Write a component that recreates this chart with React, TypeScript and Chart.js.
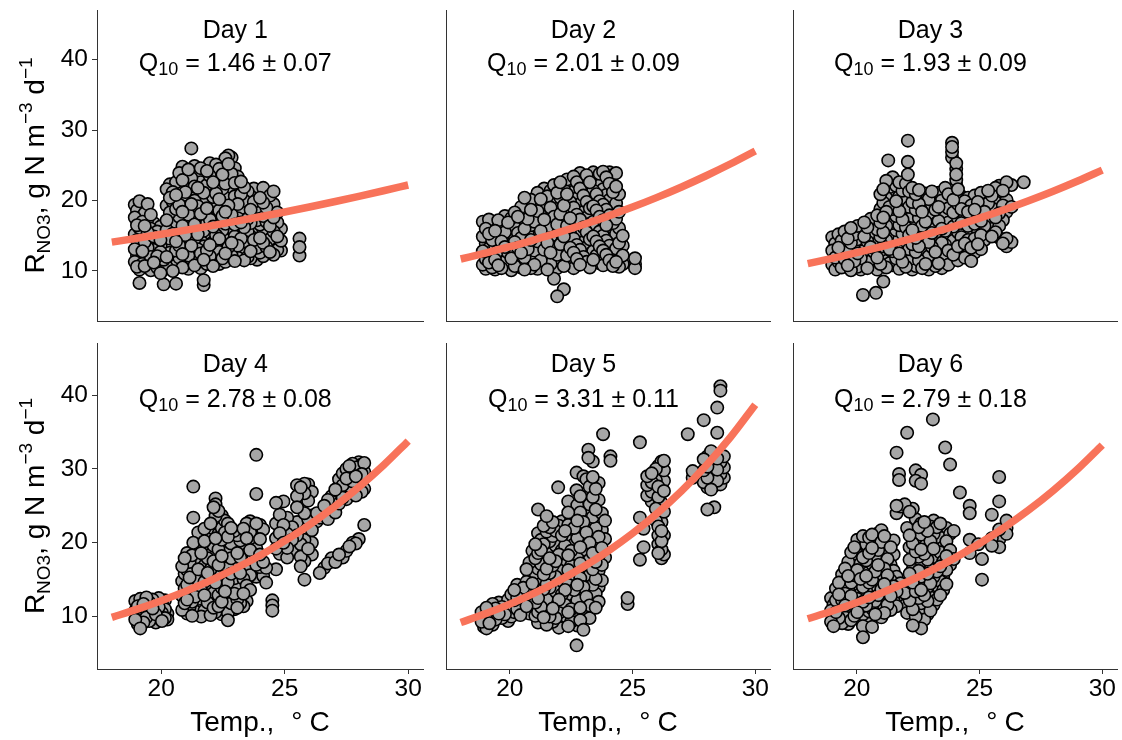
import React, { useEffect, useRef } from 'react';
import { Chart, registerables } from 'chart.js';

Chart.register(...registerables);

const FONT = '"Liberation Sans", Arial, Helvetica, sans-serif';
Chart.defaults.font.family = FONT;

// ---------------- data ----------------
const dayLabels = ['Day 1', 'Day 2', 'Day 3', 'Day 4', 'Day 5', 'Day 6'];
const q10Values = ['1.46', '2.01', '1.93', '2.78', '3.31', '2.79'];
const q10Errors = ['0.07', '0.09', '0.09', '0.08', '0.11', '0.18'];

const xTickValues = [20, 25, 30];
const yTickValues = [10, 20, 30, 40];
const xLimits = [17.4, 30.6];
const yLimits = [2.9, 47.05];

const xTitle = ['Temp.,', '°', 'C'];
const yTitle = ['R', 'NO3', ', g N m', '−3', ' d', '−1'];

// fitted curve (temperature, rate)
const fitTemps = [18, 19, 20, 21, 22, 23, 24, 25, 26, 27, 28, 29, 30];
const fitDay1 = [14.1, 14.64, 15.21, 15.8, 16.41, 17.04, 17.7, 18.38, 19.09, 19.83, 20.59, 21.39, 22.21];
const fitDay2 = [11.7, 12.55, 13.45, 14.43, 15.47, 16.59, 17.79, 19.07, 20.45, 21.93, 23.52, 25.22, 27.04];
const fitDay3 = [11.05, 11.8, 12.6, 13.46, 14.37, 15.35, 16.39, 17.51, 18.7, 19.97, 21.32, 22.77, 24.32];
const fitDay4 = [9.9, 10.97, 12.15, 13.45, 14.9, 16.51, 18.28, 20.25, 22.43, 24.85, 27.52, 30.49, 33.77];
const fitDay5 = [9.2, 10.37, 11.69, 13.17, 14.85, 16.74, 18.87, 21.27, 23.97, 27.02, 30.46, 34.33, 38.69];
const fitDay6 = [9.7, 10.75, 11.91, 13.2, 14.62, 16.2, 17.95, 19.89, 22.04, 24.42, 27.06, 29.98, 33.22];

// observations: each row = [temperature, rate, rate, ...]
const obsDay1 = [
  [18.93, 19.4, 17.6, 15.2, 13.1, 11.3],
  [19.02, 18.6, 16.5, 14.4, 12.2, 10.6],
  [19.12, 19.9, 17.9, 16.1, 13.6, 11.9, 10.2, 8.3],
  [19.24, 19.1, 17.0, 15.0, 12.8, 11.0],
  [19.33, 18.2, 16.4, 14.1, 12.4, 10.7],
  [19.45, 19.5, 17.4, 15.5, 13.3, 11.5],
  [19.58, 18.0, 16.0, 14.6, 12.0, 10.1],
  [19.7, 16.8, 14.9, 13.0, 11.2],
  [19.84, 15.6, 13.8, 12.1, 10.5],
  [19.97, 16.3, 14.4, 12.7, 10.9, 9.7],
  [20.1, 15.2, 13.2, 11.6, 10.2, 8.1],
  [20.22, 21.6, 19.3, 17.2, 15.8, 13.9, 12.0, 10.6],
  [20.35, 22.3, 20.4, 18.3, 16.6, 14.6, 12.6, 11.3],
  [20.47, 21.2, 19.8, 17.6, 15.3, 13.5, 11.7, 10.0],
  [20.6, 22.6, 20.8, 18.8, 16.9, 14.2, 12.9, 10.8, 8.2],
  [20.73, 23.9, 21.6, 19.4, 17.7, 15.6, 13.6, 11.9],
  [20.86, 24.8, 22.9, 20.3, 18.4, 16.4, 14.8, 12.4, 10.5],
  [20.98, 23.5, 21.2, 19.1, 17.2, 15.1, 13.2, 11.4],
  [21.1, 24.4, 22.4, 20.6, 18.0, 16.0, 14.1, 12.2, 10.3],
  [21.22, 27.4, 23.2, 21.5, 19.5, 17.5, 15.4, 13.6, 11.7],
  [21.35, 24.9, 22.0, 20.0, 18.6, 16.6, 14.5, 12.8, 10.8],
  [21.48, 23.8, 21.8, 19.2, 17.2, 15.2, 13.1, 11.3],
  [21.6, 24.6, 22.6, 20.6, 18.1, 16.2, 14.3, 12.5, 10.4],
  [21.72, 23.1, 21.1, 19.6, 17.6, 15.7, 13.5, 11.6, 8.7, 8.0],
  [21.85, 24.2, 22.2, 20.1, 18.9, 16.8, 14.8, 12.9, 11.0],
  [21.97, 25.3, 23.5, 21.4, 19.3, 17.3, 15.4, 13.7, 12.1],
  [22.1, 24.0, 22.6, 20.5, 18.2, 16.3, 14.1, 12.4, 10.7],
  [22.22, 25.1, 23.3, 21.0, 19.0, 17.0, 15.1, 13.2, 11.4],
  [22.35, 24.5, 22.1, 20.2, 18.6, 16.5, 14.6, 12.7, 11.0],
  [22.48, 23.7, 21.7, 19.8, 17.8, 15.8, 13.9, 11.8],
  [22.6, 26.0, 24.3, 22.4, 20.7, 18.4, 16.7, 14.4, 12.5, 11.3],
  [22.72, 26.4, 25.2, 23.0, 21.1, 19.3, 17.3, 15.3, 13.4, 11.6],
  [22.85, 26.1, 23.8, 21.9, 20.1, 18.0, 16.0, 14.0, 12.2],
  [22.98, 24.6, 22.5, 20.6, 18.7, 16.6, 14.9, 12.9, 11.4],
  [23.1, 23.4, 21.4, 19.5, 17.5, 15.5, 13.6, 11.9],
  [23.23, 22.7, 20.9, 18.9, 16.9, 14.6, 12.7],
  [23.36, 21.9, 20.0, 18.3, 16.2, 14.2, 13.1, 11.5],
  [23.5, 21.3, 19.4, 17.4, 15.6, 13.7, 12.0],
  [23.62, 20.6, 18.7, 16.8, 14.9, 12.8, 11.8],
  [23.75, 21.7, 19.8, 17.9, 16.1, 14.4, 12.4],
  [23.88, 21.1, 19.1, 17.2, 15.3, 13.3, 11.6],
  [24.0, 20.4, 18.5, 16.6, 14.7, 12.6],
  [24.13, 21.8, 19.7, 17.8, 15.9, 14.0, 12.1],
  [24.26, 21.2, 19.0, 17.0, 15.1, 13.4],
  [24.4, 20.7, 18.6, 16.4, 14.5, 12.7],
  [24.55, 21.3, 19.5, 17.6, 15.6, 13.8, 12.3],
  [24.7, 18.3, 16.9, 14.9, 13.0],
  [24.85, 16.0, 14.3, 12.9],
  [25.6, 14.6, 13.4, 12.2],
];

const obsDay2 = [
  [18.9, 17.0, 14.9, 12.8, 10.9],
  [19.02, 16.0, 13.9, 11.7, 10.3],
  [19.15, 17.3, 15.3, 13.2, 11.2],
  [19.28, 16.4, 14.4, 12.3, 10.5],
  [19.4, 15.7, 13.6, 11.6, 10.2],
  [19.53, 17.2, 14.8, 12.9, 10.8],
  [19.66, 16.5, 14.2, 12.1, 10.4],
  [19.8, 17.8, 15.5, 13.4, 11.3],
  [19.93, 16.9, 14.6, 12.6, 10.6],
  [20.06, 17.5, 15.9, 13.8, 11.8, 10.1],
  [20.2, 18.3, 16.2, 14.1, 12.2, 10.7],
  [20.33, 17.7, 15.4, 13.3, 11.4],
  [20.46, 19.1, 16.8, 14.7, 12.6, 10.5],
  [20.6, 20.4, 18.2, 16.0, 13.9, 11.9, 10.2],
  [20.73, 19.6, 17.4, 15.2, 13.1, 11.1],
  [20.86, 20.1, 18.7, 16.5, 14.4, 12.4, 10.4],
  [21.0, 19.3, 17.0, 15.0, 12.9, 10.9],
  [21.13, 21.1, 18.5, 16.3, 14.2, 12.2, 10.3],
  [21.26, 20.2, 17.9, 15.7, 13.6, 11.5],
  [21.4, 21.7, 19.5, 17.3, 15.1, 13.0, 10.8],
  [21.53, 20.6, 18.4, 16.2, 14.0, 12.1, 10.2],
  [21.66, 21.4, 19.0, 16.8, 14.7, 12.6, 11.0],
  [21.8, 22.2, 20.0, 17.7, 15.5, 13.4, 11.4, 8.9],
  [21.93, 21.1, 18.8, 16.6, 14.4, 12.3, 10.4, 6.4],
  [22.06, 22.6, 20.4, 18.1, 15.9, 13.8, 11.8],
  [22.2, 21.6, 19.3, 17.0, 14.9, 12.8, 10.7, 7.4],
  [22.33, 23.0, 20.9, 18.6, 16.4, 14.3, 12.2],
  [22.46, 22.1, 19.8, 17.5, 15.3, 13.3, 11.2],
  [22.6, 23.4, 21.3, 19.0, 16.8, 14.6, 12.6, 10.4],
  [22.73, 22.6, 20.3, 18.0, 15.8, 13.7, 11.7],
  [22.86, 23.9, 21.7, 19.5, 17.3, 15.1, 13.0, 10.9],
  [23.0, 23.0, 20.7, 18.4, 16.2, 14.1, 12.0],
  [23.13, 23.6, 21.9, 19.8, 17.6, 15.5, 13.4, 11.3],
  [23.26, 22.6, 20.4, 18.9, 16.7, 14.5, 12.4, 10.5],
  [23.4, 24.0, 21.4, 19.2, 17.0, 14.9, 12.8, 11.6],
  [23.53, 23.2, 20.9, 18.6, 16.4, 14.2, 12.2],
  [23.66, 23.8, 22.2, 19.9, 17.7, 15.6, 13.5, 11.1],
  [23.8, 24.1, 21.6, 19.4, 17.2, 15.0, 12.9, 10.8],
  [23.93, 23.3, 20.8, 18.7, 16.5, 14.3, 12.3],
  [24.06, 24.0, 22.4, 20.1, 17.9, 15.8, 13.6, 11.5],
  [24.2, 23.6, 21.2, 19.0, 16.8, 14.7, 12.6, 10.7],
  [24.33, 23.9, 22.0, 19.6, 17.4, 15.3, 13.2, 11.3],
  [24.45, 20.9, 18.4, 16.1, 14.0, 12.0, 10.6],
  [24.6, 15.0, 13.6, 12.2, 11.0],
  [25.1, 11.8, 11.0, 10.4],
];

const obsDay3 = [
  [19.0, 14.8, 12.9, 10.9],
  [19.12, 13.9, 11.9, 10.2],
  [19.25, 15.2, 13.3, 11.3],
  [19.38, 14.3, 12.4, 10.5],
  [19.5, 15.6, 13.7, 11.7],
  [19.63, 14.6, 12.7, 10.8],
  [19.76, 16.1, 14.0, 12.1, 10.1],
  [19.9, 15.2, 13.3, 11.4],
  [20.03, 16.4, 14.5, 12.5, 10.6],
  [20.16, 15.6, 13.7, 11.8, 10.2],
  [20.25, 6.6],
  [20.3, 16.9, 14.9, 12.9, 11.0],
  [20.43, 16.2, 14.2, 12.2, 10.4],
  [20.56, 17.4, 15.4, 13.4, 11.4],
  [20.7, 16.6, 14.7, 12.7, 10.8],
  [20.78, 6.9],
  [20.83, 17.9, 15.9, 13.9, 11.9, 10.2],
  [20.96, 20.9, 18.8, 16.9, 14.9, 12.9, 11.0],
  [21.08, 21.6, 19.7, 17.6, 15.5, 13.5, 11.5, 8.5],
  [21.2, 22.8, 20.4, 18.4, 16.4, 14.4, 12.4, 10.5],
  [21.28, 25.7],
  [21.33, 21.9, 19.1, 17.1, 15.1, 13.1, 11.1],
  [21.46, 23.3, 20.7, 18.8, 16.8, 14.8, 12.8, 10.8],
  [21.6, 22.1, 19.9, 17.8, 15.8, 13.8, 11.8],
  [21.73, 22.6, 20.6, 18.5, 16.5, 14.5, 12.5, 10.3],
  [21.86, 21.4, 19.3, 17.3, 15.3, 13.3, 11.3],
  [22.0, 22.4, 20.2, 18.2, 16.2, 14.2, 12.2, 10.6],
  [22.08, 28.5, 25.5, 23.7],
  [22.13, 21.3, 19.1, 17.1, 15.1, 13.1, 11.0],
  [22.26, 21.8, 19.8, 17.8, 15.8, 13.8, 11.8, 10.2],
  [22.4, 20.9, 18.7, 16.7, 14.7, 12.7, 10.7],
  [22.53, 21.5, 19.5, 17.5, 15.5, 13.5, 11.5],
  [22.66, 20.4, 18.4, 16.4, 14.3, 12.3, 10.4],
  [22.8, 21.0, 19.0, 17.0, 15.0, 13.0, 11.0],
  [22.93, 20.2, 18.1, 16.1, 14.1, 12.1, 10.2],
  [23.06, 21.3, 19.4, 17.4, 15.4, 13.4, 11.4],
  [23.2, 20.7, 18.7, 16.7, 14.7, 12.7, 10.7],
  [23.33, 21.1, 19.1, 17.1, 15.1, 13.1, 11.1],
  [23.46, 20.0, 18.0, 16.0, 14.0, 12.0, 10.4],
  [23.6, 21.8, 19.7, 17.7, 15.7, 13.7, 11.7],
  [23.73, 20.9, 18.9, 16.9, 14.9, 12.9, 10.9],
  [23.88, 28.2, 27.6, 26.9, 26.1],
  [23.93, 20.1, 18.3, 16.3, 14.3, 12.3],
  [24.05, 25.3, 24.5, 23.7, 22.9, 22.2],
  [24.12, 21.6, 19.5, 17.5, 15.5, 13.5, 11.5],
  [24.26, 20.6, 18.8, 16.8, 14.8, 12.8],
  [24.4, 19.9, 17.9, 15.9, 13.9, 11.9],
  [24.53, 20.4, 18.4, 16.4, 14.4, 12.4],
  [24.66, 19.3, 17.3, 15.3, 13.3, 11.4],
  [24.8, 20.7, 18.7, 16.7, 14.6, 12.6],
  [24.93, 19.8, 17.8, 15.8, 13.8],
  [25.06, 21.1, 19.1, 17.1, 15.1, 13.1],
  [25.2, 20.4, 18.4, 16.4, 14.4],
  [25.35, 21.4, 19.6, 17.6, 15.6],
  [25.5, 20.7, 18.9, 16.9, 14.9],
  [25.65, 21.8, 19.8, 17.6, 15.5],
  [25.8, 22.1, 20.4, 18.2, 16.4, 14.7],
  [25.95, 21.4, 19.3, 17.2, 13.9],
  [26.1, 22.6, 20.1, 18.4, 14.6, 13.5],
  [26.3, 22.2, 19.1, 14.1],
  [26.8, 22.6],
];

const obsDay4 = [
  [18.95, 12.1, 10.8, 9.6],
  [19.05, 11.4, 10.1, 9.0],
  [19.15, 12.4, 11.0, 9.7, 8.4],
  [19.28, 11.7, 10.4, 9.2],
  [19.4, 12.6, 11.2, 9.9],
  [19.52, 11.9, 10.6, 9.4],
  [19.65, 12.3, 11.1, 9.8],
  [19.78, 11.5, 10.3, 9.2],
  [19.9, 12.5, 11.3, 10.0],
  [20.03, 11.8, 10.5, 9.4],
  [20.15, 12.2, 11.0, 9.8],
  [20.25, 10.4, 9.6],
  [20.85, 16.8, 14.8, 12.8, 10.9],
  [20.95, 17.9, 15.8, 13.8, 11.8],
  [21.05, 18.6, 16.3, 14.3, 12.3, 10.4],
  [21.15, 17.4, 15.3, 13.3, 11.3],
  [21.25, 18.3, 16.1, 14.0, 12.0, 10.1],
  [21.3, 27.6, 23.4, 20.0],
  [21.38, 17.2, 15.0, 12.7, 10.7],
  [21.5, 21.4, 19.2, 16.4, 14.5, 12.4],
  [21.62, 18.6, 17.6, 15.6, 13.5, 11.5, 10.0],
  [21.75, 21.9, 20.2, 16.9, 14.7, 12.9, 10.8],
  [21.88, 19.4, 17.9, 15.9, 13.8, 11.9],
  [22.0, 22.6, 20.8, 18.4, 16.4, 14.3, 12.2, 10.2],
  [22.12, 24.8, 21.9, 19.6, 17.5, 15.3, 13.2, 11.2],
  [22.2, 26.0, 25.2, 23.6, 20.6, 18.6, 16.5, 14.6, 12.6, 10.6],
  [22.32, 24.3, 22.6, 21.2, 19.1, 17.0, 14.9, 12.9, 11.4],
  [22.45, 23.7, 22.0, 20.4, 18.2, 16.0, 13.9, 12.0, 10.3],
  [22.58, 23.0, 21.4, 19.5, 17.5, 15.4, 13.4, 11.3],
  [22.7, 22.6, 20.8, 18.7, 16.6, 14.6, 12.4, 10.5, 9.5],
  [22.83, 22.0, 19.9, 17.9, 15.8, 13.8, 11.8],
  [22.96, 21.6, 19.3, 17.3, 15.2, 13.1, 11.0],
  [23.08, 21.0, 18.6, 16.5, 14.4, 12.3, 11.2],
  [23.2, 20.3, 18.0, 15.9, 13.9, 11.8],
  [23.33, 21.9, 19.5, 17.2, 15.1, 13.1, 11.4],
  [23.46, 22.6, 20.6, 18.4, 16.3, 14.2, 12.1],
  [23.6, 22.9, 21.4, 19.0, 17.4, 15.6, 13.6],
  [23.73, 22.2, 20.1, 18.0, 16.0],
  [23.85, 31.9, 26.6, 22.6, 21.0, 19.2, 17.0, 15.4],
  [24.0, 22.4, 20.5, 18.4, 16.7],
  [24.13, 21.8, 17.4, 15.5],
  [24.25, 16.6, 14.6],
  [24.5, 12.2, 11.5, 10.8],
  [24.65, 25.4, 22.6, 20.6, 19.2, 16.4],
  [24.8, 23.8, 21.3, 18.5],
  [24.95, 25.6, 22.4, 20.0],
  [25.1, 23.4, 21.2, 19.3, 18.0],
  [25.3, 22.1, 20.4, 18.8],
  [25.5, 27.8, 26.3, 24.8, 22.8, 21.0],
  [25.65, 27.5, 25.4, 19.8, 18.1, 16.8],
  [25.8, 28.0, 26.7, 24.0, 20.4, 17.5, 15.0],
  [25.95, 27.9, 25.7, 23.2, 19.2],
  [26.1, 26.9, 23.7, 21.7, 20.0, 18.4],
  [26.3, 24.0, 22.9],
  [26.42, 23.4, 15.9],
  [26.6, 25.0, 23.9, 16.6],
  [26.75, 25.8, 24.4, 23.2, 17.2],
  [26.9, 26.3, 24.8, 17.9],
  [27.05, 27.2, 25.6, 24.1, 17.4],
  [27.2, 28.6, 26.9, 25.3, 18.4],
  [27.35, 29.4, 27.8, 26.1, 18.0],
  [27.5, 30.0, 28.7, 27.2, 25.9, 18.9],
  [27.62, 30.4, 29.2, 27.7, 19.5],
  [27.75, 30.7, 29.6, 28.3, 26.9, 20.0],
  [27.88, 30.2, 29.0, 27.6, 26.4, 19.9],
  [28.0, 30.9, 29.8, 28.6, 27.4, 20.5],
  [28.12, 30.6, 29.3, 28.0, 26.9],
  [28.22, 30.8, 29.6, 27.3, 22.4],
];

const obsDay5 = [
  [18.85, 10.6, 9.3],
  [18.95, 9.9, 8.6],
  [19.05, 11.2, 9.6, 8.4],
  [19.17, 10.4, 9.1],
  [19.3, 11.7, 10.0, 8.9],
  [19.42, 11.1, 9.6],
  [19.55, 11.9, 10.4],
  [19.68, 11.3, 9.8],
  [19.8, 11.6, 10.3],
  [19.93, 12.3, 10.8, 9.4],
  [20.06, 13.0, 11.5, 10.0],
  [20.18, 13.6, 12.2, 10.6],
  [20.3, 14.3, 12.6, 11.0],
  [20.43, 13.2, 11.6, 10.2],
  [20.55, 13.9, 12.3, 10.8],
  [20.68, 16.4, 14.7, 13.0, 11.4],
  [20.8, 17.3, 15.5, 13.7, 12.0, 10.4],
  [20.92, 18.9, 16.7, 14.5, 12.6, 10.9],
  [21.04, 19.8, 17.9, 15.9, 13.9, 11.9, 10.1],
  [21.15, 24.5, 21.3, 18.6, 16.5, 14.5, 12.5, 10.6, 9.2],
  [21.27, 20.4, 19.0, 17.1, 15.2, 13.2, 11.3],
  [21.38, 22.3, 19.8, 17.8, 15.7, 13.7, 11.8, 9.9],
  [21.5, 23.6, 21.5, 18.6, 16.5, 14.4, 12.4, 10.5, 8.9],
  [21.62, 22.1, 20.2, 17.9, 15.9, 13.9, 11.9, 10.0],
  [21.75, 22.8, 20.9, 18.9, 16.9, 14.9, 12.9, 11.1, 9.3],
  [21.87, 21.6, 19.6, 17.5, 15.4, 13.4, 11.5, 9.8],
  [21.97, 27.5],
  [22.0, 22.3, 20.3, 18.4, 16.3, 14.2, 12.3, 10.5, 8.5],
  [22.12, 22.9, 21.0, 19.0, 17.0, 15.0, 13.0, 11.0, 9.6],
  [22.25, 21.6, 19.6, 17.6, 15.6, 13.6, 11.6, 10.1],
  [22.38, 25.6, 24.1, 22.4, 20.3, 18.3, 16.3, 14.3, 12.3, 10.6, 8.7],
  [22.5, 23.2, 21.0, 18.9, 16.9, 14.9, 12.9, 11.0, 9.3],
  [22.62, 24.2, 22.0, 19.8, 17.7, 15.7, 13.6, 11.6, 10.0],
  [22.72, 29.5, 27.1, 6.1],
  [22.75, 25.1, 23.0, 20.6, 18.4, 16.3, 14.3, 12.2, 10.5, 8.8],
  [22.87, 26.3, 24.1, 21.7, 19.4, 17.2, 15.2, 13.1, 11.2, 9.5],
  [23.0, 29.0, 25.0, 22.8, 20.4, 18.1, 16.0, 14.0, 11.9, 10.1, 8.2],
  [23.12, 28.6, 26.2, 23.8, 21.4, 19.0, 16.9, 14.8, 12.7, 10.8],
  [23.2, 32.6, 31.5],
  [23.25, 27.6, 25.2, 22.5, 20.0, 17.7, 15.6, 13.5, 11.5, 9.8],
  [23.38, 31.0, 28.9, 26.2, 23.5, 21.0, 18.6, 16.4, 14.3, 12.2],
  [23.5, 27.3, 24.5, 22.0, 19.6, 17.4, 15.1, 13.1, 11.2],
  [23.62, 28.1, 25.8, 23.1, 20.8, 18.3, 16.2, 14.0, 12.0],
  [23.75, 24.0, 21.7, 19.3, 17.0, 14.9],
  [23.8, 34.7],
  [23.88, 23.0, 20.5, 18.0],
  [24.1, 31.7, 31.1],
  [24.8, 12.5, 11.7],
  [25.3, 33.6, 23.4, 17.7],
  [25.45, 19.4, 21.9],
  [25.6, 29.0, 27.8, 26.4],
  [25.78, 29.4, 28.2, 26.9, 25.6],
  [25.95, 30.0, 28.5, 27.2, 24.6, 23.0],
  [26.05, 30.4, 29.0, 27.6, 26.2, 24.8, 23.4, 22.2, 21.0, 19.8, 18.6],
  [26.18, 31.0, 25.4, 22.8, 21.6, 20.2, 19.1, 17.9],
  [26.28, 31.1, 29.8, 28.4, 27.0, 24.2, 21.0, 18.4],
  [27.25, 34.7],
  [27.45, 29.7, 28.8],
  [27.9, 36.6, 31.3, 29.8, 28.2],
  [28.05, 31.7, 30.3, 28.8, 27.5, 24.5],
  [28.2, 32.4, 30.9, 29.5, 27.2],
  [28.33, 31.2, 29.1, 27.7, 24.8],
  [28.45, 38.3, 34.9, 31.4, 29.9, 28.4],
  [28.58, 41.2, 40.6, 30.9, 29.3, 27.9],
  [28.72, 31.7, 30.2, 28.8],
];

const obsDay6 = [
  [18.95, 12.5, 10.8, 9.3],
  [19.05, 11.6, 10.0, 8.7],
  [19.15, 13.8, 12.2, 10.6, 9.2],
  [19.27, 14.6, 13.0, 11.3, 9.8],
  [19.4, 15.7, 13.9, 12.2, 10.5, 9.1],
  [19.52, 16.5, 14.8, 13.1, 11.5, 9.9],
  [19.65, 17.4, 15.5, 13.7, 12.0, 10.4, 9.0],
  [19.77, 18.7, 16.7, 14.6, 12.8, 11.0, 9.5],
  [19.9, 19.4, 17.6, 15.6, 13.6, 11.7, 10.1],
  [20.02, 20.4, 18.4, 16.3, 14.3, 12.4, 10.6],
  [20.15, 19.2, 17.2, 15.1, 13.1, 11.2, 9.6],
  [20.25, 20.9, 18.0, 16.0, 14.0, 12.0, 10.3, 8.7, 7.2],
  [20.38, 19.8, 17.6, 15.5, 13.5, 11.5, 9.9],
  [20.5, 20.7, 18.6, 16.6, 14.6, 12.6, 10.7],
  [20.62, 21.1, 19.3, 17.1, 15.0, 13.0, 11.1, 8.6],
  [20.75, 20.1, 18.1, 16.1, 14.1, 12.1, 10.3],
  [20.87, 21.3, 19.0, 17.0, 14.9, 12.9, 10.9],
  [21.0, 21.7, 20.1, 17.9, 15.8, 13.7, 11.7, 9.9],
  [21.12, 20.9, 18.6, 16.5, 14.4, 12.4, 10.5],
  [21.25, 20.2, 17.8, 15.6, 13.6, 11.6],
  [21.38, 19.4, 17.0, 14.9, 12.8, 10.9],
  [21.5, 20.3, 18.4, 16.2, 14.1, 12.1],
  [21.62, 32.2, 25.0, 24.0, 15.4, 13.4, 11.4],
  [21.72, 29.3, 28.5],
  [21.78, 24.9, 14.5, 12.6],
  [21.95, 25.2, 13.2, 11.5],
  [22.05, 34.9, 22.0, 10.5],
  [22.15, 24.2, 21.0, 19.4, 17.7, 15.8, 14.0, 12.2],
  [22.28, 24.6, 21.6, 19.9, 18.2, 16.4, 14.6, 12.8, 11.0, 8.8],
  [22.4, 29.8, 28.4, 23.2, 20.6, 18.8, 17.0, 15.2, 13.4, 11.6, 10.0],
  [22.52, 22.1, 20.0, 18.1, 16.2, 14.4, 12.5, 10.7],
  [22.62, 29.2, 28.0, 22.6, 21.1, 19.1, 17.2, 15.4, 13.6, 11.8, 8.4],
  [22.75, 22.8, 20.4, 18.5, 16.6, 14.8, 12.9, 11.1, 9.6],
  [22.88, 21.6, 19.6, 17.7, 15.8, 14.0, 12.1, 10.3],
  [23.0, 22.2, 20.2, 18.3, 16.4, 14.5, 12.6, 10.8],
  [23.1, 36.7],
  [23.13, 23.0, 21.2, 19.2, 17.3, 15.4, 13.5, 11.6],
  [23.26, 22.1, 20.0, 18.0, 16.1, 14.2, 12.3],
  [23.4, 22.6, 20.7, 18.7, 16.8, 14.8, 12.9],
  [23.52, 21.4, 19.4, 17.5, 15.5, 13.6],
  [23.6, 32.9],
  [23.65, 22.0, 20.2, 18.2, 16.3, 14.4],
  [23.8, 30.6, 21.2, 19.0, 17.0],
  [23.95, 21.6, 17.8],
  [24.2, 26.8],
  [24.6, 25.0, 24.0, 20.4, 18.6],
  [24.95, 19.8],
  [25.1, 17.8, 15.0],
  [25.5, 23.8, 20.6, 19.6],
  [25.8, 28.9, 25.6, 21.8, 20.4, 19.4],
  [26.1, 23.0, 22.0, 21.2],
];

const panelObs = [obsDay1, obsDay2, obsDay3, obsDay4, obsDay5, obsDay6];
const panelFits = [fitDay1, fitDay2, fitDay3, fitDay4, fitDay5, fitDay6];

// ---------------- layout & style ----------------
const COLS = [
  { l: 97, r: 423 },
  { l: 446, r: 770 },
  { l: 793, r: 1117 },
];
const ROWS = [
  { t: 10, b: 321 },
  { t: 343, b: 669 },
];
const PAGE_H = 740;

const LABEL_T = 23; // annotation centre (temperature)
const LABEL_DAY_R = 43.1; // baseline of "Day n"
const LABEL_Q_R = 38.45; // baseline of Q10 line

const POINT_FILL = '#A6A6A6';
const LINE_COLOR = '#F8735A';
const AXIS_COLOR = '#333333';
const TEXT_COLOR = '#000000';

type Part = { t?: string; size?: number; dy?: number; gap?: number };

function drawParts(ctx: CanvasRenderingContext2D, parts: Part[], x: number, y: number) {
  ctx.textAlign = 'left';
  ctx.textBaseline = 'alphabetic';
  const widths = parts.map((p) => {
    if (p.gap !== undefined) return p.gap;
    ctx.font = `${p.size}px ${FONT}`;
    return ctx.measureText(p.t || '').width;
  });
  const total = widths.reduce((a, b) => a + b, 0);
  let cx = x - total / 2;
  parts.forEach((p, i) => {
    if (p.gap === undefined) {
      ctx.font = `${p.size}px ${FONT}`;
      ctx.fillText(p.t || '', cx, y + (p.dy || 0));
    }
    cx += widths[i];
  });
}

// flatten the columns into points; the drawing order is interleaved
// (like a time-ordered record) so overlaps do not form regular shingles
function toPoints(cols: number[][]) {
  const flat: { x: number; y: number }[] = [];
  cols.forEach((c) => {
    for (let k = 1; k < c.length; k++) flat.push({ x: c[0], y: c[k] });
  });
  const n = flat.length;
  let step = 37;
  while (n % step === 0) step += 2;
  const out: { x: number; y: number }[] = [];
  for (let k = 0; k < n; k++) out.push(flat[(k * step) % n]);
  return out;
}

function Panel({ index }: { index: number }) {
  const ref = useRef<HTMLCanvasElement>(null);
  const col = index % 3;
  const row = Math.floor(index / 3);
  const isLeft = col === 0;
  const isBottom = row === 1;
  const { l, r } = COLS[col];
  const { t, b } = ROWS[row];
  const yAxisW = isLeft ? l : 10;
  const padTop = 20;
  const padRight = 20;
  const xAxisH = isBottom ? PAGE_H - b : 20;
  const left = l - yAxisW;
  const top = t - padTop;
  const width = yAxisW + (r - l) + padRight;
  const height = padTop + (b - t) + xAxisH;

  useEffect(() => {
    const canvas = ref.current;
    if (!canvas) return;
    const annot = {
      id: 'annot' + index,
      afterDraw(chart: any) {
        const ctx: CanvasRenderingContext2D = chart.ctx;
        const xs = chart.scales.x;
        const ys = chart.scales.y;
        const ca = chart.chartArea;
        ctx.save();
        ctx.fillStyle = TEXT_COLOR;
        const cx = xs.getPixelForValue(LABEL_T);
        drawParts(ctx, [{ t: dayLabels[index], size: 25 }], cx, ys.getPixelForValue(LABEL_DAY_R));
        drawParts(
          ctx,
          [
            { t: 'Q', size: 25 },
            { t: '10', size: 18, dy: 4.5 },
            { t: ` = ${q10Values[index]} ± ${q10Errors[index]}`, size: 25 },
          ],
          cx,
          ys.getPixelForValue(LABEL_Q_R)
        );
        if (isBottom) {
          drawParts(
            ctx,
            [
              { t: xTitle[0], size: 28 },
              { gap: 17 },
              { t: xTitle[1], size: 28 },
              { gap: 7 },
              { t: xTitle[2], size: 28 },
            ],
            (ca.left + ca.right) / 2,
            ca.bottom + 62
          );
        }
        if (isLeft) {
          ctx.translate(44, (ca.top + ca.bottom) / 2);
          ctx.rotate(-Math.PI / 2);
          drawParts(
            ctx,
            [
              { t: yTitle[0], size: 28 },
              { t: yTitle[1], size: 19, dy: 6 },
              { t: yTitle[2], size: 28 },
              { t: yTitle[3], size: 19, dy: -12.5 },
              { t: yTitle[4], size: 28 },
              { t: yTitle[5], size: 19, dy: -12.5 },
            ],
            0,
            0
          );
        }
        ctx.restore();
      },
    };

    const chart = new Chart(canvas, {
      type: 'scatter',
      data: {
        datasets: [
          {
            label: 'fit',
            data: fitTemps.map((tt, k) => ({ x: tt, y: panelFits[index][k] })),
            showLine: true,
            borderColor: LINE_COLOR,
            backgroundColor: LINE_COLOR,
            borderWidth: 7.5,
            pointRadius: 0,
            cubicInterpolationMode: 'monotone',
            fill: false,
            order: 0,
          } as any,
          {
            label: 'obs',
            data: toPoints(panelObs[index]),
            pointRadius: 6.2,
            pointBackgroundColor: POINT_FILL,
            pointBorderColor: '#000000',
            pointBorderWidth: 1.6,
            order: 1,
          } as any,
        ],
      },
      options: {
        animation: false,
        responsive: false,
        maintainAspectRatio: false,
        events: [],
        layout: { padding: { top: padTop, right: padRight, left: 0, bottom: 0 } },
        plugins: { legend: { display: false }, tooltip: { enabled: false } },
        scales: {
          x: {
            type: 'linear',
            min: xLimits[0],
            max: xLimits[1],
            afterBuildTicks: (s: any) => {
              s.ticks = xTickValues.map((v) => ({ value: v }));
            },
            afterFit: (s: any) => {
              s.height = xAxisH;
            },
            grid: {
              display: true,
              drawOnChartArea: false,
              drawTicks: isBottom,
              tickLength: 5,
              color: AXIS_COLOR,
              lineWidth: 1,
            },
            border: { display: true, color: AXIS_COLOR, width: 1 },
            ticks: {
              display: isBottom,
              padding: 1,
              color: TEXT_COLOR,
              font: { size: 24.5, family: FONT },
              maxRotation: 0,
              autoSkip: false,
            },
          },
          y: {
            type: 'linear',
            min: yLimits[0],
            max: yLimits[1],
            afterBuildTicks: (s: any) => {
              s.ticks = yTickValues.map((v) => ({ value: v }));
            },
            afterFit: (s: any) => {
              s.width = yAxisW;
            },
            grid: {
              display: true,
              drawOnChartArea: false,
              drawTicks: isLeft,
              tickLength: 5,
              color: AXIS_COLOR,
              lineWidth: 1,
            },
            border: { display: true, color: AXIS_COLOR, width: 1 },
            ticks: {
              display: isLeft,
              padding: 4,
              color: TEXT_COLOR,
              font: { size: 24.5, family: FONT },
              autoSkip: false,
            },
          },
        },
      } as any,
      plugins: [annot],
    });
    return () => chart.destroy();
  }, []);

  return (
    <canvas
      ref={ref}
      width={width}
      height={height}
      style={{ position: 'absolute', left, top, width, height }}
    />
  );
}

export default function App() {
  return (
    <div
      style={{
        position: 'absolute',
        left: 0,
        top: 0,
        width: 1122,
        height: 740,
        overflow: 'hidden',
        background: '#ffffff',
      }}
    >
      {[0, 1, 2, 3, 4, 5].map((i) => (
        <Panel key={i} index={i} />
      ))}
    </div>
  );
}
